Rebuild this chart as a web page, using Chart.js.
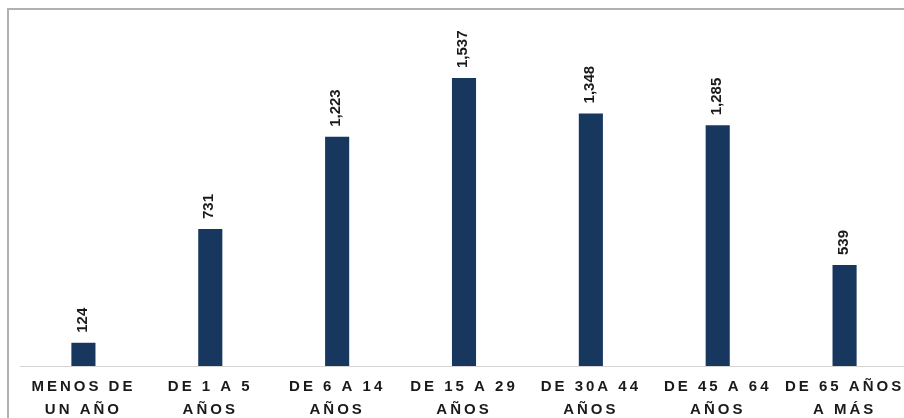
<!DOCTYPE html>
<html>
<head>
<meta charset="utf-8">
<script src="https://cdn.jsdelivr.net/npm/chart.js@4"></script>
<style>
  html, body { margin: 0; padding: 0; background: #fff; overflow: hidden; }
  body { width: 904px; height: 418px; position: relative; }
  .frame {
    position: absolute; left: 7px; top: 8px; width: 920px; height: 420px;
    border-left: 2px solid #b0b0b0; border-top: 2px solid #b0b0b0;
  }
  .wrap { position: absolute; left: 0; top: 0; width: 908px; height: 418px; }
</style>
</head>
<body>
<div class="frame"></div>
<div class="wrap"><canvas id="c"></canvas></div>
<script>
const categories = [
  ["MENOS DE", "UN AÑO"],
  ["DE 1 A 5", "AÑOS"],
  ["DE 6 A 14", "AÑOS"],
  ["DE 15 A 29", "AÑOS"],
  ["DE 30A 44", "AÑOS"],
  ["DE 45 A 64", "AÑOS"],
  ["DE 65 AÑOS", "A MÁS"]
];
const values = [124, 731, 1223, 1537, 1348, 1285, 539];

const barColor = "#17375e";
const textColor = "#1a1a1a";
const fontFamily = '"Liberation Sans", Arial, sans-serif';

// tick labels are tracked out, value labels are not
const letterSpacing = {
  id: "letterSpacing",
  beforeDraw(chart) { chart.ctx.letterSpacing = "3px"; },
  beforeDatasetsDraw(chart) { chart.ctx.letterSpacing = "0px"; }
};

const valueLabels = {
  id: "valueLabels",
  afterDatasetsDraw(chart) {
    const ctx = chart.ctx;
    const meta = chart.getDatasetMeta(0);
    ctx.save();
    ctx.letterSpacing = "0px";
    ctx.font = `bold 15px ${fontFamily}`;
    ctx.fillStyle = textColor;
    ctx.textAlign = "left";
    ctx.textBaseline = "middle";
    meta.data.forEach((bar, i) => {
      ctx.save();
      ctx.translate(bar.x - 1, bar.y - 10);
      ctx.rotate(-Math.PI / 2);
      ctx.fillText(values[i].toLocaleString("en-US"), 0, 0);
      ctx.restore();
    });
    ctx.restore();
  }
};

new Chart(document.getElementById("c"), {
  type: "bar",
  data: {
    labels: categories,
    datasets: [{
      data: values,
      backgroundColor: barColor,
      borderWidth: 0,
      barPercentage: 0.95,
      categoryPercentage: 0.2
    }]
  },
  options: {
    responsive: true,
    maintainAspectRatio: false,
    animation: false,
    layout: { padding: { left: 20, top: 10, right: 0, bottom: -5 } },
    plugins: { legend: { display: false }, tooltip: { enabled: false } },
    scales: {
      x: {
        grid: { display: false },
        border: { display: true, color: "#d4d4d4", width: 1 },
        ticks: {
          color: textColor,
          padding: 2,
          maxRotation: 0,
          autoSkip: false,
          font: { size: 15, weight: "bold", family: fontFamily, lineHeight: 1.5 }
        }
      },
      y: {
        display: false,
        min: 0,
        max: 1900
      }
    }
  },
  plugins: [letterSpacing, valueLabels]
});
</script>
</body>
</html>
